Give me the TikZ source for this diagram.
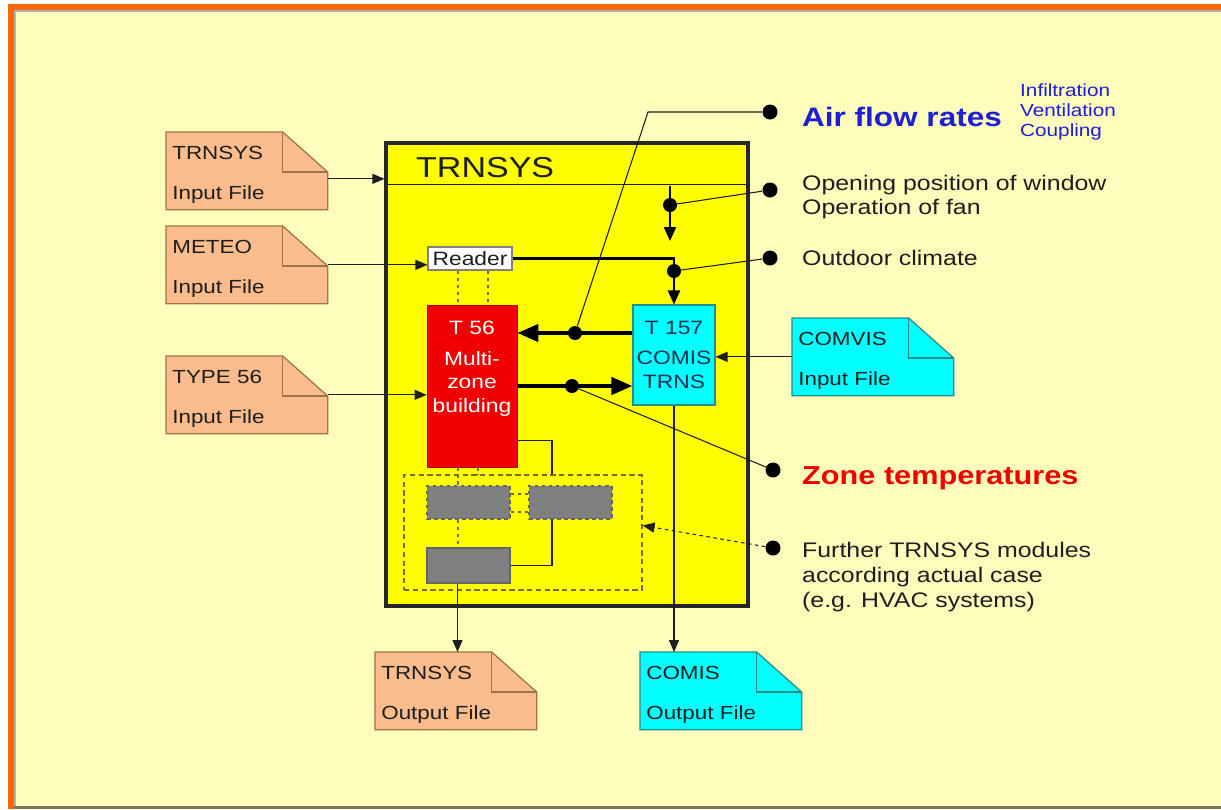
\documentclass[tikz,border=0pt]{standalone}
\usepackage{fontspec}
\setmainfont{Liberation Sans}[FakeStretch=1.18]
\usepackage{xcolor}
\usepackage{tikz}
\usetikzlibrary{arrows.meta,positioning}
\definecolor{paperYellow}{RGB}{255,253,187}
\definecolor{frameOrange}{RGB}{255,102,0}
\definecolor{boxYellow}{RGB}{255,255,0}
\definecolor{filePeach}{RGB}{250,188,140}
\definecolor{fileEdge}{RGB}{160,115,70}
\definecolor{comisCyan}{RGB}{0,255,255}
\definecolor{comisEdge}{RGB}{40,140,140}
\definecolor{comisText}{RGB}{25,50,80}
\definecolor{zoneRed}{RGB}{240,0,0}
\definecolor{modGray}{RGB}{128,128,128}
\definecolor{flowBlue}{RGB}{30,30,215}
\definecolor{txtDark}{RGB}{30,30,30}
\definecolor{olive}{RGB}{120,105,40}

\newcommand{\filetext}[2]{\rule{0pt}{12pt}#1\\[9.8pt]#2}

\tikzset{
  thinline/.style={txtDark, line width=0.6pt},
  thinarrow/.style={thinline, -{Triangle[length=0.24cm,width=0.2cm]}},
  midarrow/.style={black, line width=1.2pt, -{Triangle[length=0.28cm,width=0.24cm]}},
  fatarrow/.style={black, line width=2.4pt, -{Triangle[length=0.42cm,width=0.34cm]}},
  dotline/.style={olive, line width=0.6pt, dash pattern=on 2pt off 2pt},
  furarrow/.style={txtDark, line width=0.6pt, dash pattern=on 2pt off 2pt, -{Triangle[length=0.24cm,width=0.2cm]}},
  filenode/.style={fill=#1, minimum width=3.22cm, minimum height=1.54cm, inner xsep=0.12cm, inner ysep=0pt,
    text width=2.98cm, align=left, text=txtDark, font=\fontsize{10.8}{13}\selectfont},
  boxtext/.style={inner sep=0pt, align=center, font=\fontsize{11}{13.5}\selectfont},
  modbox/.style={fill=modGray, draw=black!60, line width=0.6pt, minimum width=1.66cm, minimum height=0.66cm, inner sep=0pt},
  bigdot/.style={circle, fill=black, inner sep=0pt, minimum size=0.3cm},
  smalldot/.style={circle, fill=black, inner sep=0pt, minimum size=0.28cm},
  labeltext/.style={anchor=west, text=txtDark, align=left, font=\fontsize{12}{14}\selectfont}
}

\begin{document}
\begin{tikzpicture}[x=0.02cm,y=-0.02cm]
    \useasboundingbox (0,0) rectangle (1221,809);

    % page and frame
    \fill[white] (0,0) rectangle (1221,809);
    \fill[paperYellow] (14,10) rectangle (1221,806);
    \fill[frameOrange] (8,4) rectangle (1221,10);
    \fill[frameOrange] (8,4) rectangle (14,809);
    \draw[gray!60, line width=0.6pt] (15,806) -- (15,11) -- (1221,11);
    \fill[olive!50!gray] (14,806) rectangle (1221,809);

    % TRNSYS box
    \node[draw=black!85, line width=1.8pt, fill=boxYellow, minimum width=7.24cm, minimum height=9.26cm, inner sep=0pt] (trnsys) at (567,374.5) {};
    \node[anchor=west, text=txtDark, font=\fontsize{16.4}{18}\selectfont] (title) at (410,168) {TRNSYS};
    \draw[thinline] ([yshift=-0.86cm]trnsys.north west) -- ([yshift=-0.86cm]trnsys.north east);

    % inner modules
    \node[draw=gray, fill=white, line width=0.6pt, minimum width=1.68cm, minimum height=0.46cm, inner sep=0pt,
          text=txtDark, font=\fontsize{11}{13}\selectfont] (reader) at (470,258.5) {Reader};
    \node[fill=zoneRed, draw=red!70!black, line width=0.4pt, minimum width=1.8cm, minimum height=3.24cm, inner sep=0pt] (t56) at (472,386) {};
    \node[boxtext, text=white, below=0.32cm of t56.north] (t56txt) {T 56\\[4pt]Multi-\\zone\\building};
    \node[fill=comisCyan, draw=comisEdge, line width=0.6pt, minimum width=1.64cm, minimum height=2cm, inner sep=0pt] (t157) at (674,355) {};
    \node[boxtext, text=comisText, below=0.32cm of t157.north] (t157txt) {T 157\\[4pt]COMIS\\TRNS};

    % further modules
    \node[draw=olive, dash pattern=on 3pt off 2pt, line width=0.7pt, minimum width=4.76cm, minimum height=2.3cm, inner sep=0pt] (mods) at (523,532.5) {};
    \node[modbox, dash pattern=on 2pt off 2pt] (g1) at (468.5,502.5) {};
    \node[modbox, dash pattern=on 2pt off 2pt] (g2) at (570.5,502.5) {};
    \node[modbox, minimum height=0.7cm] (g3) at (468.5,565.5) {};

    % files
    \node[filenode=filePeach, anchor=north west] (inTrn) at (166,132) {\filetext{TRNSYS}{Input File}};
    \node[filenode=filePeach, anchor=north west] (inMet) at (166,226) {\filetext{METEO}{Input File}};
    \node[filenode=filePeach, anchor=north west] (inT56) at (166,356) {\filetext{TYPE 56}{Input File}};
    \node[filenode=comisCyan, anchor=north west] (inCom) at (792,318) {\filetext{COMVIS}{Input File}};
    \node[filenode=filePeach, anchor=north west] (outTrn) at (375,652) {\filetext{TRNSYS}{Output File}};
    \node[filenode=comisCyan, anchor=north west] (outCom) at (640,652) {\filetext{COMIS}{Output File}};
    \foreach \d/\e in {inTrn/fileEdge, inMet/fileEdge, inT56/fileEdge, inCom/comisEdge, outTrn/fileEdge, outCom/comisEdge} {
        \fill[paperYellow] ([xshift=-0.9cm]\d.north east) -- ([xshift=0.04cm,yshift=0.04cm]\d.north east) -- ([yshift=-0.8cm]\d.north east) -- cycle;
        \draw[\e, line width=0.7pt] (\d.south west) -- (\d.north west) -- ([xshift=-0.9cm]\d.north east)
            -- ([yshift=-0.8cm]\d.north east) -- (\d.south east) -- cycle;
        \draw[\e, line width=0.7pt] ([xshift=-0.9cm]\d.north east) |- ([yshift=-0.8cm]\d.north east);
    }

    % dots
    \node[smalldot] (dWin) at (670,205) {};
    \node[smalldot] (dClim) at (674,271) {};
    \node[smalldot] (dRet) at (575,333) {};
    \node[smalldot] (dZone) at (572,386) {};
    \node[bigdot] (dAir) at (770,112) {};
    \node[bigdot] (dWinR) at (770,190) {};
    \node[bigdot] (dClimR) at (770,258) {};
    \node[bigdot] (dZoneR) at (773,470) {};
    \node[bigdot] (dFur) at (773,548) {};

    % inputs and outputs
    \draw[thinarrow] ([yshift=-0.16cm]inTrn.east) -- ([yshift=-0.16cm]inTrn.east -| trnsys.west);
    \draw[thinarrow] (inMet.east) -- (inMet.east -| reader.west);
    \draw[thinarrow] (inT56.east) -- (inT56.east -| t56.west);
    \draw[thinarrow] (inCom.west) -- (inCom.west -| t157.east);
    \draw[thinarrow] (t157.south) -- (t157.south |- outCom.north);
    \coordinate (outTap) at ([xshift=-0.22cm]g3.south);
    \draw[thinarrow] (outTap) -- (outTap |- outTrn.north);

    % control signals
    \coordinate (hdrTap) at (670,186);
    \coordinate (hdrEnd) at (670,241);
    \draw[midarrow] (hdrTap) -- (hdrEnd);
    \draw[midarrow] (reader.east) -| (t157.north);
    \draw[fatarrow] (t157.west |- dRet) -- (t56.east |- dRet);
    \draw[fatarrow] (t56.east |- dZone) -- (t157.west |- dZone);

    % module links
    \draw[thinline] ([yshift=0.54cm]t56.south east) -| ([xshift=-0.37cm]g2.north |- mods.north);
    \draw[thinline] (g3.east) -| ([xshift=-0.37cm]g2.south);
    \draw[dotline] ([xshift=-0.24cm]reader.south) -- ([xshift=-0.24cm]reader.south |- t56.north);
    \draw[dotline] ([xshift=0.36cm]reader.south) -- ([xshift=0.36cm]reader.south |- t56.north);
    \draw[dotline] ([xshift=-0.28cm]t56.south) -- ([xshift=-0.28cm]t56.south |- g1.north);
    \draw[dotline] ([xshift=0.12cm]t56.south) -- ([xshift=0.12cm]t56.south |- mods.north);
    \draw[dotline] ([xshift=-0.21cm]g1.south) -- ([xshift=-0.21cm]g1.south |- g3.north);
    \draw[dotline] ([yshift=0.17cm]g1.east) -- ([yshift=0.17cm]g1.east -| g2.west);
    \draw[dotline] ([yshift=-0.19cm]g1.east) -- ([yshift=-0.19cm]g1.east -| g2.west);

    % callouts
    \coordinate (airBend) at (648,112);
    \draw[thinline] (dRet) -- (airBend) -- (dAir);
    \draw[thinline] (dWin) -- (dWinR);
    \draw[thinline] (dClim) -- (dClimR);
    \draw[thinline] (dZone) -- (dZoneR);
    \draw[furarrow] (dFur) -- ([yshift=0.14cm]mods.east);

    \node[labeltext, text=flowBlue, font=\bfseries\fontsize{15.2}{18}\selectfont] (airTxt) at (796,117) {Air flow rates};
    \node[labeltext, text=flowBlue, font=\fontsize{10}{11.4}\selectfont] (airKinds) at (1014,112) {Infiltration\\Ventilation\\Coupling};
    \node[labeltext] (winTxt) at (796,197) {Opening position of window\\Operation of fan};
    \node[labeltext] (climTxt) at (796,258) {Outdoor climate};
    \node[labeltext, text=zoneRed, font=\bfseries\fontsize{14.8}{18}\selectfont] (zoneTxt) at (796,478) {Zone temperatures};
    \node[labeltext] (furTxt) at (796,577) {Further TRNSYS modules\\according actual case\\(e.g. HVAC systems)};
\end{tikzpicture}
\end{document}
